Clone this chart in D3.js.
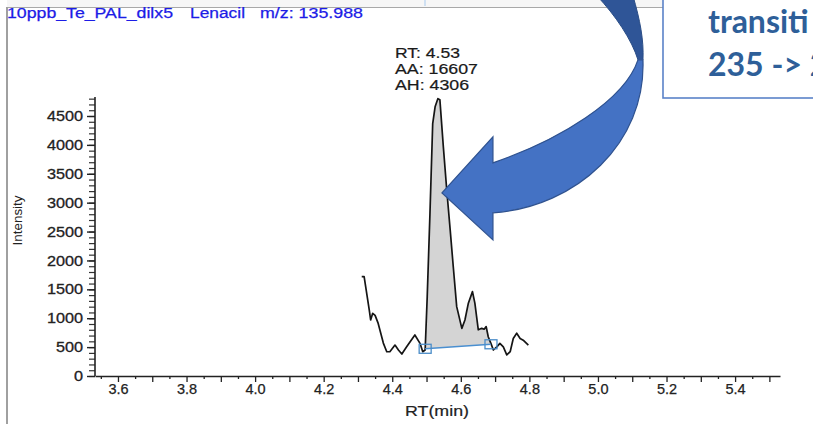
<!DOCTYPE html>
<html><head><meta charset="utf-8">
<script src="https://cdn.jsdelivr.net/npm/d3@7"></script>
<style>html,body{margin:0;padding:0;background:#fff;overflow:hidden}svg{display:block}</style>
</head><body>
<script>
// ---- data ----
const rtValues = [4.311,4.318,4.333,4.337,4.343,4.350,4.359,4.374,4.384,4.393,4.408,4.418,4.428,4.442,4.466,4.481,4.489,4.496,4.502,4.510,4.518,4.525,4.533,4.539,4.549,4.559,4.569,4.578,4.588,4.603,4.612,4.622,4.634,4.641,4.651,4.661,4.668,4.674,4.680,4.688,4.695,4.705,4.714,4.724,4.734,4.744,4.753,4.763,4.773,4.782,4.797];
const intensityValues = [1720,1720,1140,970,1085,1050,910,570,420,420,535,450,380,505,710,565,420,450,1370,2810,4370,4660,4800,4780,3970,3220,2530,1890,1200,825,970,1260,1460,1260,800,825,810,855,680,560,450,505,565,505,365,420,650,740,650,620,535];
const baselineRT = [4.496, 4.688];
const baselineIntensity = [471, 549];
const xMajorTicks = [3.6,3.7,3.8,3.9,4.0,4.1,4.2,4.3,4.4,4.5,4.6,4.7,4.8,4.9,5.0,5.1,5.2,5.3,5.4,5.5];
const xLabelTicks = [3.6,3.8,4.0,4.2,4.4,4.6,4.8,5.0,5.2,5.4];
const yTickValues = [0,500,1000,1500,2000,2500,3000,3500,4000,4500];
const titleParts = ["10ppb_Te_PAL_dilx5", "Lenacil", "m/z: 135.988"];
const peakLabels = ["RT: 4.53", "AA: 16607", "AH: 4306"];
const calloutLines = ["transiti", "235 -> 2"];
const arrowTip = {rt: 4.545, intensity: 3170};

const W = 813, H = 424;
const svg = d3.select("body").append("svg").attr("width", W).attr("height", H);
svg.append("rect").attr("width", W).attr("height", H).attr("fill", "#fff");

const x = d3.scaleLinear().domain([3.533, 5.531]).range([95, 780]);
const y = d3.scaleLinear().domain([0, 4500]).range([376, 116]);
const yTop = 4830;
const FONT = "Liberation Sans, Arial, sans-serif";

// window frame
svg.append("rect").attr("x", 7).attr("y", 0).attr("width", 656).attr("height", 7).attr("fill", "#f6f6f6");
svg.append("line").attr("x1", 425).attr("x2", 425).attr("y1", 0).attr("y2", 6).attr("stroke", "#cfe0f2").attr("stroke-width", 2);
svg.append("line").attr("x1", 7).attr("x2", 663).attr("y1", 7.5).attr("y2", 7.5).attr("stroke", "#a8a8a8").attr("stroke-width", 1.2);
svg.append("line").attr("x1", 7).attr("x2", 7).attr("y1", 7).attr("y2", H).attr("stroke", "#a0a0a0").attr("stroke-width", 2);

// title
const titleX = [7, 190, 260], titleLen = [166, 55, 103];
svg.selectAll("text.title").data(titleParts).join("text").attr("class", "title")
  .attr("x", (d, i) => titleX[i]).attr("y", 18)
  .attr("textLength", (d, i) => titleLen[i]).attr("lengthAdjust", "spacingAndGlyphs")
  .attr("font-family", FONT).attr("font-size", 14)
  .attr("fill", "#1c1ce6").attr("stroke", "#1c1ce6").attr("stroke-width", 0.25).text(d => d);

// peak area
const bx = d3.scaleLinear().domain(baselineRT).range(baselineIntensity);
const pts = rtValues.map((r, i) => ({r, v: intensityValues[i]}));
const areaPts = pts.filter(p => p.r >= baselineRT[0] - 1e-9 && p.r <= baselineRT[1] + 1e-9);
svg.append("path").datum(areaPts)
  .attr("d", d3.area().x(p => x(p.r)).y0(p => y(bx(p.r))).y1(p => y(p.v)))
  .attr("fill", "#d4d4d4");

// trace
svg.append("path").datum(pts)
  .attr("d", d3.line().x(p => x(p.r)).y(p => y(p.v)))
  .attr("fill", "none").attr("stroke", "#151515").attr("stroke-width", 1.7).attr("stroke-linejoin", "round");

// baseline
svg.append("line")
  .attr("x1", x(baselineRT[0])).attr("y1", y(baselineIntensity[0]))
  .attr("x2", x(baselineRT[1])).attr("y2", y(baselineIntensity[1]))
  .attr("stroke", "#4a8fd0").attr("stroke-width", 1.4);
svg.selectAll("rect.bm").data(baselineRT).join("rect").attr("class", "bm")
  .attr("x", (d, i) => x(d) - 6).attr("y", (d, i) => y(baselineIntensity[i]) - 4.5)
  .attr("width", 12).attr("height", 9)
  .attr("fill", "none").attr("stroke", "#4a8cc8").attr("stroke-width", 1.3);

// axes
const gx = svg.append("g").attr("transform", `translate(0,${y(0)})`);
gx.call(d3.axisBottom(x).tickValues(d3.range(3.55, 5.52, 0.1)).tickSize(3).tickSizeOuter(0).tickFormat(""));
gx.call(g => g.select(".domain").remove());
gx.selectAll(".tick line").attr("stroke", "#222").attr("stroke-width", 1.3);
const gx2 = svg.append("g").attr("transform", `translate(0,${y(0)})`);
gx2.call(d3.axisBottom(x).tickValues(xMajorTicks).tickSize(6).tickSizeOuter(0)
  .tickFormat(d => xLabelTicks.some(v => Math.abs(v - d) < 1e-6) ? d3.format(".1f")(d) : ""));
gx2.select(".domain").attr("stroke", "#222").attr("stroke-width", 1.6);
gx2.selectAll(".tick line").attr("stroke", "#222").attr("stroke-width", 1.3);
gx2.selectAll(".tick text").attr("font-family", FONT).attr("font-size", 14.5)
  .attr("fill", "#222").attr("stroke", "#222").attr("stroke-width", 0.25).attr("dy", "0.75em").attr("y", 7);

const gy = svg.append("g").attr("transform", `translate(${x.range()[0]},0)`);
gy.call(d3.axisLeft(y).tickValues(d3.range(0, 4801, 100)).tickSize(6).tickSizeOuter(0).tickFormat(""));
gy.call(g => g.select(".domain").remove());
gy.selectAll(".tick line").attr("stroke", "#333").attr("stroke-width", 1.2);
const gy2 = svg.append("g").attr("transform", `translate(${x.range()[0]},0)`);
gy2.call(d3.axisLeft(y).tickValues(yTickValues).tickSize(8).tickSizeOuter(0).tickPadding(4).tickFormat(d3.format("d")));
gy2.select(".domain").attr("d", `M0,${y(yTop)}V${y(0)}`).attr("stroke", "#222").attr("stroke-width", 1.6);
gy2.selectAll(".tick line").attr("stroke", "#222").attr("stroke-width", 1.4);
gy2.selectAll(".tick text").attr("font-family", FONT).attr("font-size", 14.5)
  .attr("fill", "#222").attr("stroke", "#222").attr("stroke-width", 0.3)
  .each(function() { const t = d3.select(this); t.attr("textLength", this.getComputedTextLength() * 1.12).attr("lengthAdjust", "spacingAndGlyphs"); });

// axis titles
svg.append("text").attr("transform", `translate(22,${(y(0) + y(yTop)) / 2 - 16}) rotate(-90)`)
  .attr("text-anchor", "middle").attr("font-family", FONT).attr("font-size", 13.5)
  .attr("textLength", 50).attr("lengthAdjust", "spacingAndGlyphs")
  .attr("fill", "#222").text("Intensity");
svg.append("text").attr("x", 437).attr("y", 416).attr("text-anchor", "middle")
  .attr("font-family", FONT).attr("font-size", 14)
  .attr("textLength", 64).attr("lengthAdjust", "spacingAndGlyphs")
  .attr("fill", "#222").attr("stroke", "#222").attr("stroke-width", 0.2).text("RT(min)");

// peak labels
const plLen = [65, 83, 74];
svg.selectAll("text.pl").data(peakLabels).join("text").attr("class", "pl")
  .attr("x", 395).attr("y", (d, i) => 58 + i * 16)
  .attr("textLength", (d, i) => plLen[i]).attr("lengthAdjust", "spacingAndGlyphs")
  .attr("font-family", FONT).attr("font-size", 14)
  .attr("fill", "#1a1a1a").attr("stroke", "#1a1a1a").attr("stroke-width", 0.2).text(d => d);

// curved arrow overlay
const tx = x(arrowTip.rt), ty = y(arrowTip.intensity);
const P = (dx, dy) => `${tx + dx},${ty + dy}`;
svg.append("path")
  .attr("d", `M${P(155,-197)} C${P(173,-178)} ${P(190,-153)} ${P(196,-133)} L${P(201,-133)} C${P(202,-153)} ${P(198,-173)} ${P(191,-197)} Z`)
  .attr("fill", "#2f5597").attr("stroke", "#2a4d86").attr("stroke-width", 1);
svg.append("path")
  .attr("d", `M${P(0,0)} L${P(51,-56)} L${P(51,-30)} C${P(118,-53)} ${P(183,-93)} ${P(196,-133)} L${P(201,-133)} C${P(204,-50)} ${P(135,14)} ${P(51,20)} L${P(51,47)} Z`)
  .attr("fill", "#4472c4").attr("stroke", "#2f528f").attr("stroke-width", 1.2).attr("stroke-linejoin", "miter");

// callout box
svg.append("rect").attr("x", 663).attr("y", -5).attr("width", 170).attr("height", 103)
  .attr("fill", "#fff").attr("stroke", "#5a82c8").attr("stroke-width", 1.6);
svg.selectAll("text.co").data(calloutLines).join("text").attr("class", "co")
  .attr("x", 708).attr("y", (d, i) => 33 + i * 43)
  .attr("font-family", "Lato, 'Open Sans', sans-serif").attr("font-weight", "bold").attr("font-size", 32)
  .attr("fill", "#2e5f99").text(d => d);
</script>
</body></html>
